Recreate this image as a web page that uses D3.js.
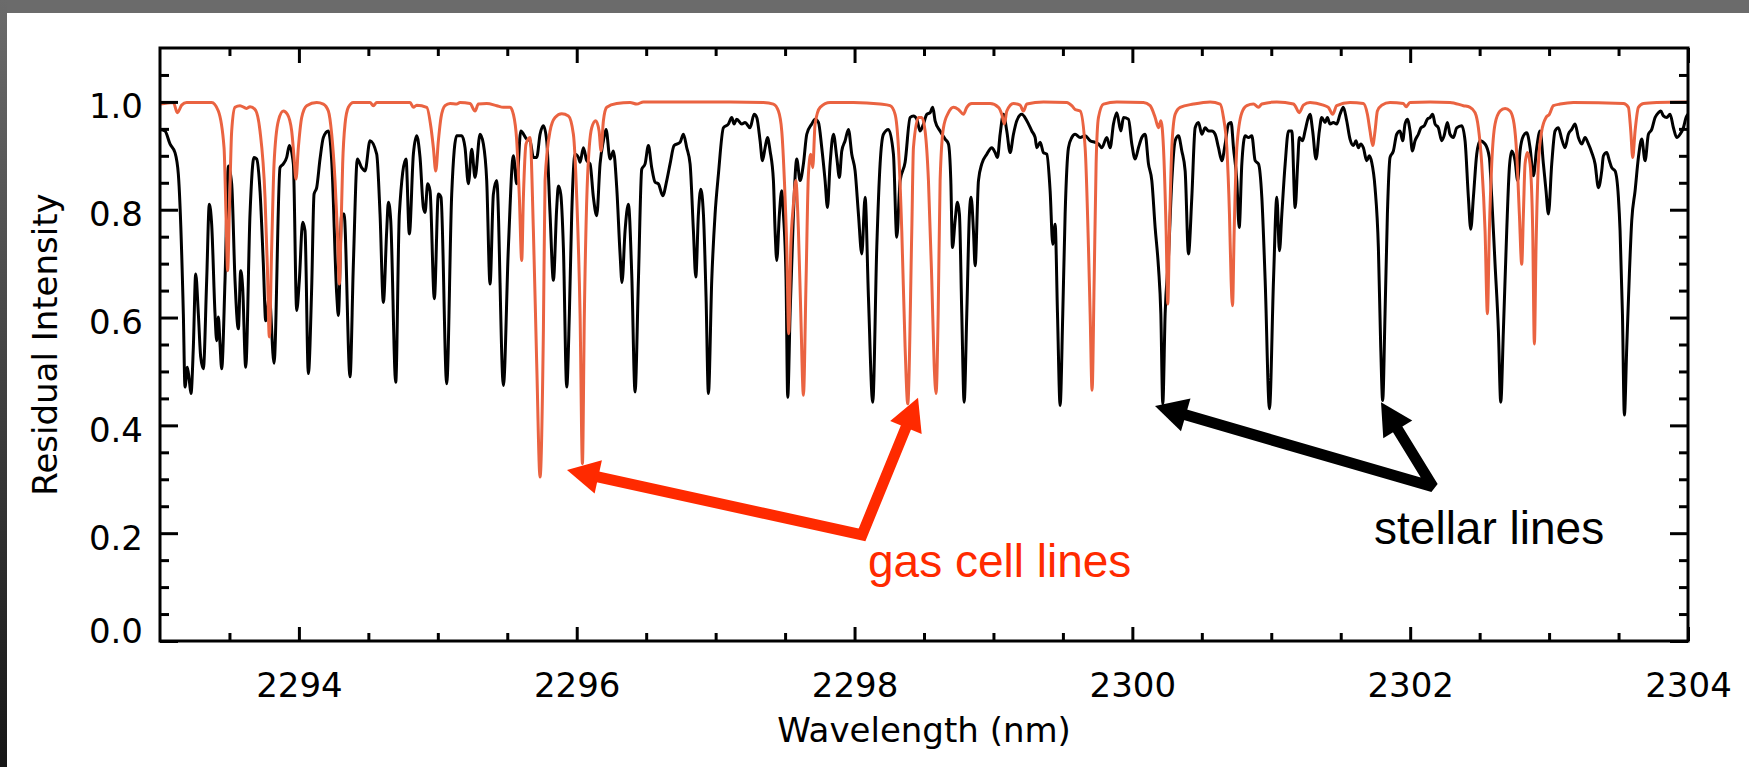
<!DOCTYPE html>
<html>
<head>
<meta charset="utf-8">
<script src="https://cdn.jsdelivr.net/npm/d3@7"></script>
<style>
  body { margin: 0; background: #ffffff; }
  svg { display: block; }
  .axis path.domain { display: none; }
  .axis line { stroke: #000; stroke-width: 3; }
  .axis text { font-family: "DejaVu Sans", sans-serif; font-size: 34px; fill: #000; }
</style>
</head>
<body>
<svg id="chart"></svg>
<script>
// stellar spectrum (black)
var stellarWave = [
2293.000,2293.036,2293.072,2293.108,2293.132,2293.168,2293.180,2293.197,2293.211,2293.223,2293.240,2293.257,2293.276,2293.293,2293.312,2293.336,2293.355,2293.372,2293.396,2293.408,2293.420,2293.432,2293.444,2293.468,2293.492,2293.516,2293.540,2293.564,2293.581,2293.595,2293.617,2293.648,2293.677,2293.696,2293.720,2293.744,2293.761,2293.787,2293.821,2293.864,2293.888,2293.912,2293.931,2293.960,2293.984,2294.003,2294.027,2294.044,2294.068,2294.092,2294.109,2294.128,2294.152,2294.176,2294.212,2294.236,2294.272,2294.284,2294.308,2294.325,2294.368,2294.392,2294.421,2294.452,2294.476,2294.512,2294.560,2294.584,2294.608,2294.632,2294.644,2294.661,2294.697,2294.723,2294.771,2294.795,2294.824,2294.848,2294.872,2294.896,2294.908,2294.927,2294.944,2294.975,2295.004,2295.023,2295.064,2295.100,2295.136,2295.172,2295.196,2295.220,2295.244,2295.268,2295.304,2295.328,2295.352,2295.376,2295.400,2295.424,2295.472,2295.508,2295.544,2295.568,2295.597,2295.640,
2295.664,2295.688,2295.712,2295.736,2295.760,2295.784,2295.808,2295.832,2295.856,2295.868,2295.885,2295.904,2295.928,2295.947,2295.964,2295.988,2296.012,2296.024,2296.048,2296.072,2296.096,2296.120,2296.144,2296.168,2296.192,2296.211,2296.240,2296.264,2296.288,2296.312,2296.326,2296.348,2296.372,2296.396,2296.420,2296.444,2296.468,2296.492,2296.516,2296.540,2296.564,2296.588,2296.619,2296.648,2296.672,2296.701,2296.744,2296.768,2296.792,2296.816,2296.840,2296.857,2296.876,2296.893,2296.912,2296.931,2296.948,2296.972,2296.996,2297.020,2297.056,2297.092,2297.116,2297.133,2297.152,2297.188,2297.212,2297.248,2297.277,2297.296,2297.320,2297.337,2297.356,2297.373,2297.392,2297.416,2297.428,2297.440,2297.459,2297.476,2297.488,2297.507,2297.519,2297.536,2297.560,2297.584,2297.608,2297.632,2297.656,2297.692,2297.716,2297.740,2297.764,2297.788,2297.805,2297.824,2297.848,2297.872,2297.891,2297.908,2297.932,2297.956,2297.980,2298.004,2298.028,2298.052,2298.076,2298.100,2298.131,2298.160,2298.184,2298.208,2298.244,2298.280,2298.304,2298.328,2298.364,2298.400,
2298.424,2298.448,2298.472,2298.496,2298.520,2298.544,2298.563,2298.580,2298.616,2298.652,2298.676,2298.693,2298.705,2298.724,2298.741,2298.755,2298.772,2298.789,2298.808,2298.827,2298.839,2298.856,2298.868,2298.892,2298.916,2298.952,2298.988,2299.012,2299.029,2299.048,2299.072,2299.096,2299.120,2299.144,2299.168,2299.204,2299.240,2299.276,2299.300,2299.312,2299.336,2299.360,2299.384,2299.408,2299.427,2299.444,2299.461,2299.480,2299.499,2299.516,2299.540,2299.564,2299.588,2299.624,2299.660,2299.696,2299.732,2299.756,2299.780,2299.816,2299.840,2299.864,2299.888,2299.917,2299.936,2299.972,2299.996,2300.020,2300.044,2300.068,2300.092,2300.116,2300.140,2300.164,2300.188,2300.205,2300.219,2300.236,2300.260,2300.284,2300.308,2300.332,2300.356,2300.380,2300.404,2300.428,2300.452,2300.476,2300.500,2300.524,2300.548,2300.572,2300.596,2300.620,2300.644,2300.668,2300.692,2300.711,2300.728,2300.752,2300.769,2300.788,2300.812,2300.836,2300.860,2300.884,2300.908,2300.932,2300.956,2300.987,2301.016,2301.040,2301.059,2301.076,2301.100,2301.124,2301.148,
2301.172,2301.190,2301.202,2301.226,2301.243,2301.267,2301.279,2301.298,2301.322,2301.346,2301.363,2301.387,2301.404,2301.423,2301.447,2301.471,2301.495,2301.519,2301.543,2301.567,2301.591,2301.610,2301.627,2301.644,2301.663,2301.687,2301.706,2301.723,2301.747,2301.771,2301.788,2301.802,2301.819,2301.836,2301.855,2301.879,2301.903,2301.927,2301.946,2301.963,2301.980,2301.999,2302.016,2302.035,2302.059,2302.078,2302.102,2302.124,2302.143,2302.162,2302.179,2302.203,2302.227,2302.244,2302.268,2302.287,2302.311,2302.335,2302.371,2302.395,2302.419,2302.436,2302.455,2302.479,2302.503,2302.539,2302.570,2302.587,2302.611,2302.635,2302.652,2302.671,2302.695,2302.714,2302.731,2302.755,2302.774,2302.791,2302.815,2302.839,2302.863,2302.887,2302.911,2302.935,2302.959,2302.978,2302.995,2303.019,2303.043,2303.067,2303.091,2303.115,2303.139,2303.163,2303.187,2303.211,2303.235,2303.259,2303.283,2303.307,2303.331,2303.355,2303.379,2303.391,2303.415,2303.434,2303.451,2303.475,2303.499,2303.511,2303.528,2303.542,2303.559,2303.578,2303.595,2303.619,2303.643,2303.667,2303.691,2303.715,2303.739,2303.763,2303.787,2303.804,2303.823,2303.847,2303.871,2303.895,2303.919,2303.943,2303.967,2303.986,2304.000]
var stellarFlux = [
0.949,0.946,0.922,0.906,0.866,0.607,0.471,0.508,0.483,0.459,0.545,0.681,0.607,0.527,0.505,0.669,0.810,0.773,0.607,0.557,0.601,0.551,0.505,0.669,0.881,0.848,0.669,0.579,0.687,0.656,0.508,0.792,0.897,0.894,0.835,0.699,0.594,0.638,0.515,0.878,0.885,0.897,0.919,0.885,0.613,0.669,0.777,0.761,0.496,0.656,0.829,0.841,0.894,0.934,0.946,0.891,0.644,0.604,0.792,0.792,0.490,0.699,0.894,0.878,0.872,0.928,0.903,0.792,0.628,0.761,0.814,0.780,0.480,0.792,0.894,0.755,0.903,0.937,0.897,0.804,0.795,0.848,0.835,0.635,0.829,0.823,0.477,0.829,0.937,0.937,0.915,0.848,0.912,0.860,0.940,0.922,0.854,0.662,0.829,0.854,0.474,0.730,0.900,0.848,0.946,0.931,
0.928,0.897,0.897,0.940,0.956,0.928,0.792,0.669,0.804,0.844,0.829,0.730,0.471,0.607,0.792,0.903,0.897,0.888,0.915,0.891,0.885,0.823,0.789,0.885,0.928,0.949,0.894,0.909,0.841,0.718,0.665,0.761,0.810,0.681,0.462,0.669,0.875,0.885,0.919,0.878,0.851,0.848,0.826,0.854,0.885,0.919,0.925,0.940,0.915,0.885,0.761,0.675,0.792,0.838,0.792,0.638,0.459,0.669,0.792,0.866,0.952,0.959,0.971,0.959,0.968,0.959,0.962,0.952,0.977,0.971,0.928,0.891,0.915,0.934,0.909,0.854,0.761,0.706,0.792,0.835,0.792,0.669,0.452,0.607,0.792,0.894,0.854,0.885,0.940,0.959,0.968,0.962,0.915,0.854,0.804,0.885,0.940,0.897,0.860,0.909,0.928,0.949,0.903,0.872,0.792,0.718,0.823,0.638,0.443,0.730,0.885,0.940,0.949,0.903,0.749,0.854,0.888,0.971,
0.974,0.968,0.946,0.959,0.977,0.980,0.990,0.965,0.946,0.931,0.922,0.854,0.730,0.780,0.814,0.792,0.607,0.443,0.607,0.792,0.823,0.761,0.696,0.854,0.885,0.903,0.915,0.906,0.897,0.940,0.977,0.946,0.906,0.940,0.965,0.977,0.965,0.946,0.934,0.915,0.925,0.906,0.903,0.835,0.736,0.773,0.607,0.437,0.607,0.792,0.915,0.934,0.940,0.934,0.937,0.928,0.925,0.922,0.915,0.934,0.915,0.959,0.980,0.946,0.971,0.968,0.922,0.894,0.915,0.934,0.940,0.885,0.854,0.767,0.693,0.607,0.440,0.607,0.712,0.854,0.928,0.937,0.909,0.872,0.718,0.823,0.952,0.962,0.940,0.952,0.946,0.946,0.940,0.915,0.891,0.922,0.959,0.962,0.915,0.854,0.767,0.885,0.937,0.934,0.937,0.891,0.885,0.823,0.669,0.431,0.669,0.823,0.724,0.792,0.885,0.946,0.946,
0.804,0.885,0.934,0.928,0.946,0.971,0.977,0.946,0.894,0.946,0.971,0.962,0.971,0.959,0.962,0.959,0.977,0.990,0.965,0.931,0.919,0.928,0.915,0.922,0.915,0.891,0.900,0.888,0.841,0.730,0.545,0.446,0.607,0.792,0.897,0.909,0.940,0.946,0.928,0.959,0.968,0.946,0.909,0.928,0.940,0.952,0.956,0.968,0.971,0.977,0.959,0.952,0.928,0.937,0.962,0.940,0.934,0.952,0.956,0.928,0.823,0.764,0.823,0.903,0.928,0.922,0.897,0.823,0.699,0.576,0.443,0.576,0.761,0.878,0.909,0.891,0.854,0.909,0.937,0.943,0.915,0.863,0.915,0.946,0.885,0.835,0.792,0.885,0.946,0.952,0.931,0.915,0.940,0.949,0.959,0.934,0.922,0.934,0.922,0.906,0.885,0.841,0.872,0.900,0.906,0.891,0.878,0.872,0.823,0.761,0.607,0.419,0.545,0.681,0.780,0.835,0.897,0.931,0.891,0.940,0.949,0.971,0.980,0.983,0.974,0.971,0.977,0.952,0.934,0.940,0.952,0.971,0.977]

// gas cell transmission (red)
var gasWave = [
2293.000,2293.096,2293.125,2293.156,2293.192,2293.372,2293.420,2293.461,2293.475,2293.487,2293.499,2293.516,2293.540,2293.576,2293.624,2293.648,2293.684,2293.720,2293.756,2293.773,2293.787,2293.804,2293.821,2293.852,2293.888,2293.917,2293.948,2293.965,2293.979,2293.996,2294.020,2294.056,2294.128,2294.176,2294.212,2294.236,2294.260,2294.277,2294.291,2294.303,2294.315,2294.332,2294.356,2294.392,2294.512,2294.536,2294.560,2294.800,2294.824,2294.848,2294.920,2294.951,2294.968,2294.985,2295.004,2295.023,2295.052,2295.088,2295.136,2295.160,2295.232,2295.268,2295.292,2295.352,2295.424,2295.472,2295.520,2295.544,2295.568,2295.587,2295.604,2295.616,2295.635,2295.664,
2295.688,2295.712,2295.736,2295.760,2295.772,2295.808,2295.844,2295.892,2295.940,2295.976,2296.000,2296.024,2296.041,2296.055,2296.077,2296.108,2296.137,2296.161,2296.175,2296.192,2296.216,2296.288,2296.384,2296.432,2296.480,2296.624,2296.960,2297.104,2297.344,2297.416,2297.452,2297.476,2297.495,2297.512,2297.526,2297.541,2297.560,2297.577,2297.596,2297.613,2297.632,2297.651,2297.668,2297.685,2297.699,2297.716,2297.752,2297.824,2297.992,2298.184,2298.256,2298.292,2298.316,2298.340,2298.364,2298.383,2298.412,
2298.424,2298.460,2298.484,2298.508,2298.532,2298.556,2298.573,2298.587,2298.602,2298.616,2298.640,2298.676,2298.712,2298.748,2298.784,2298.808,2298.844,2298.976,2299.036,2299.060,2299.079,2299.096,2299.144,2299.192,2299.216,2299.240,2299.360,2299.528,2299.564,2299.588,2299.624,2299.660,2299.684,2299.696,2299.710,2299.725,2299.739,2299.756,2299.792,2299.888,2300.080,2300.128,2300.164,2300.188,2300.205,2300.224,2300.243,2300.255,2300.267,2300.284,2300.308,2300.344,2300.440,2300.560,2300.632,2300.656,2300.680,2300.699,2300.711,2300.721,2300.733,2300.752,2300.788,2300.824,2300.872,2300.908,2300.932,2301.040,2301.160,
2301.171,2301.202,2301.231,2301.279,2301.375,2301.411,2301.442,2301.471,2301.567,2301.663,2301.692,2301.711,2301.730,2301.747,2301.764,2301.795,2301.855,2301.951,2301.970,2301.999,2302.143,2302.287,2302.383,2302.431,2302.467,2302.491,2302.515,2302.539,2302.556,2302.570,2302.587,2302.611,2302.647,2302.683,2302.719,2302.748,2302.767,2302.786,2302.803,2302.815,2302.827,2302.844,2302.863,2302.882,2302.894,2302.906,2302.923,2302.947,2302.978,2303.002,2303.031,2303.079,2303.175,2303.535,2303.571,2303.588,2303.602,2303.619,2303.643,2303.679,2303.775,2304.000]
var gasFlux = [
0.996,0.999,0.980,0.994,0.999,0.999,0.983,0.915,0.792,0.687,0.792,0.946,0.990,0.993,0.988,0.991,0.986,0.946,0.823,0.693,0.564,0.730,0.885,0.965,0.983,0.977,0.946,0.897,0.857,0.915,0.971,0.993,0.999,0.996,0.983,0.940,0.854,0.761,0.662,0.761,0.885,0.959,0.990,0.999,0.999,0.993,0.999,0.999,0.990,0.994,0.990,0.952,0.915,0.872,0.928,0.971,0.993,0.997,0.996,0.999,0.997,0.983,0.996,0.997,0.993,0.990,0.990,0.977,0.928,0.823,0.706,0.823,0.922,0.934,
0.761,0.514,0.304,0.576,0.854,0.946,0.971,0.978,0.974,0.940,0.823,0.607,0.329,0.607,0.854,0.952,0.965,0.946,0.909,0.965,0.990,0.997,0.999,0.996,1.000,1.000,1.000,1.000,0.999,0.996,0.983,0.946,0.854,0.730,0.570,0.730,0.810,0.854,0.761,0.607,0.456,0.669,0.866,0.903,0.878,0.959,0.990,0.999,0.999,0.996,0.993,0.977,0.915,0.761,0.545,0.440,0.760,
0.915,0.971,0.971,0.946,0.854,0.669,0.514,0.459,0.607,0.854,0.952,0.980,0.990,0.986,0.977,0.990,0.997,0.997,0.990,0.977,0.959,0.983,0.997,0.994,0.983,0.996,1.000,0.999,0.993,0.986,0.983,0.915,0.730,0.607,0.465,0.669,0.885,0.971,0.996,1.000,0.999,0.993,0.971,0.952,0.965,0.915,0.761,0.625,0.761,0.915,0.977,0.990,0.996,1.000,0.996,0.971,0.915,0.792,0.669,0.622,0.761,0.915,0.980,0.993,0.996,0.990,0.996,1.000,0.996,
0.993,0.980,0.994,0.999,0.994,0.990,0.977,0.993,0.999,0.997,0.977,0.946,0.919,0.946,0.983,0.994,0.999,0.997,0.991,0.999,1.000,0.999,0.993,0.990,0.980,0.952,0.885,0.761,0.607,0.761,0.885,0.959,0.983,0.988,0.983,0.959,0.903,0.792,0.699,0.792,0.885,0.906,0.885,0.761,0.551,0.730,0.885,0.946,0.971,0.977,0.993,0.996,0.999,0.997,0.990,0.946,0.897,0.946,0.990,0.997,0.999,1.000]

// axis ticks
var xMajor = [2294, 2296, 2298, 2300, 2302, 2304]
var xMinor = [2293.5, 2294.5, 2295, 2295.5, 2296.5, 2297, 2297.5, 2298.5, 2299, 2299.5, 2300.5, 2301, 2301.5, 2302.5, 2303, 2303.5]
var yMajor = [0, 0.2, 0.4, 0.6, 0.8, 1.0]
var yMinor = [0.05, 0.1, 0.15, 0.25, 0.3, 0.35, 0.45, 0.5, 0.55, 0.65, 0.7, 0.75, 0.85, 0.9, 0.95, 1.05]

// annotations: [tail vertex, tip 1, tip 2] in data units
var gasArrow = [[2298.054, 0.197], [2295.930, 0.317], [2298.457, 0.451]]
var starArrow = [[2302.164, 0.286], [2300.163, 0.436], [2301.790, 0.443]]
var gasLabel = {text: "gas cell lines", wave: 2298.097, flux: 0.119}
var starLabel = {text: "stellar lines", wave: 2301.740, flux: 0.180}

var screen = {width: 1749, height: 767}
var margins = {top: 48, right: 61, left: 160, bottom: 126}

var svg = d3.select("#chart")
    .attr("width", screen.width)
    .attr("height", screen.height)

// grey frame of the slide
var grad = svg.append("defs").append("linearGradient")
    .attr("id", "side").attr("x1", 0).attr("y1", 0).attr("x2", 0).attr("y2", 1)
grad.append("stop").attr("offset", "0%").attr("stop-color", "#6b6b6b")
grad.append("stop").attr("offset", "100%").attr("stop-color", "#161616")

svg.append("rect").attr("width", screen.width).attr("height", screen.height).attr("fill", "#fff")
svg.append("rect").attr("width", screen.width).attr("height", 13).attr("fill", "#6b6b6b")
svg.append("rect").attr("y", 0).attr("width", 7).attr("height", screen.height).attr("fill", "url(#side)")

var width = screen.width - margins.left - margins.right
var height = screen.height - margins.top - margins.bottom

var xScale = d3.scaleLinear().domain([2293, 2304]).range([0, width])
var yScale = d3.scaleLinear().domain([0, 1.1]).range([height, 0])

var graph = svg.append("g")
    .attr("transform", "translate(" + margins.left + "," + margins.top + ")")

var clip = graph.append("clipPath").attr("id", "plotclip")
clip.append("rect").attr("width", width).attr("height", height)

var line = d3.line()
    .x(function(d){ return xScale(d[0]) })
    .y(function(d){ return yScale(d[1]) })
    .curve(d3.curveMonotoneX)

var stellar = stellarWave.map(function(w, i){ return [w, stellarFlux[i]] })
var gas = gasWave.map(function(w, i){ return [w, gasFlux[i]] })

var lines = graph.append("g").attr("clip-path", "url(#plotclip)")
lines.append("path").datum(stellar)
    .attr("d", line).attr("fill", "none")
    .attr("stroke", "#000").attr("stroke-width", 3).attr("stroke-linejoin", "round")
lines.append("path").datum(gas)
    .attr("d", line).attr("fill", "none")
    .attr("stroke", "#ea6341").attr("stroke-width", 3).attr("stroke-linejoin", "round")

// axes, ticks pointing inward on all four sides
var addAxis = function(axis, tx, ty)
{
    return graph.append("g").classed("axis", true)
        .attr("transform", "translate(" + tx + "," + ty + ")")
        .call(axis)
}

var bottom = addAxis(d3.axisBottom(xScale).tickValues(xMajor).tickSize(-14).tickFormat(d3.format("d")), 0, height)
addAxis(d3.axisBottom(xScale).tickValues(xMinor).tickSize(-8).tickFormat(""), 0, height)
addAxis(d3.axisTop(xScale).tickValues(xMajor).tickSize(-15).tickFormat(""), 0, 0)
addAxis(d3.axisTop(xScale).tickValues(xMinor).tickSize(-8).tickFormat(""), 0, 0)

var left = addAxis(d3.axisLeft(yScale).tickValues(yMajor).tickSize(-18).tickFormat(d3.format(".1f")), 0, 0)
addAxis(d3.axisLeft(yScale).tickValues(yMinor).tickSize(-9).tickFormat(""), 0, 0)
addAxis(d3.axisRight(yScale).tickValues(yMajor).tickSize(-18).tickFormat(""), width, 0)
addAxis(d3.axisRight(yScale).tickValues(yMinor).tickSize(-9).tickFormat(""), width, 0)

bottom.selectAll("text")
    .attr("y", 56).attr("dy", 0)

left.selectAll("text")
    .attr("x", -17).attr("dy", 0)
    .attr("y", function(d){ return d == 0 ? 1 : 16 })
    .style("text-anchor", "end")

graph.append("rect")
    .attr("width", width).attr("height", height)
    .attr("fill", "none").attr("stroke", "#000").attr("stroke-width", 3)

// axis titles
graph.append("text")
    .attr("x", width / 2).attr("y", height + 101)
    .attr("text-anchor", "middle")
    .style("font-family", "DejaVu Sans, sans-serif").style("font-size", "34px")
    .text("Wavelength (nm)")

graph.append("text")
    .attr("transform", "translate(" + (57 - margins.left) + "," + (height / 2) + ") rotate(-90)")
    .attr("text-anchor", "middle")
    .style("font-family", "DejaVu Sans, sans-serif").style("font-size", "34px")
    .text("Residual Intensity")

// annotation arrows
var drawArrow = function(pts, color)
{
    var p = pts.map(function(d){ return [xScale(d[0]), yScale(d[1])] })
    var headLen = 32, headHalf = 17
    var bases = []
    for (var k = 1; k < 3; k++)
    {
        var dx = p[k][0] - p[0][0], dy = p[k][1] - p[0][1]
        var len = Math.sqrt(dx * dx + dy * dy)
        var ux = dx / len, uy = dy / len
        var bx = p[k][0] - ux * headLen, by = p[k][1] - uy * headLen
        bases.push([bx + ux * 4, by + uy * 4])
        graph.append("path")
            .attr("d", "M" + p[k][0] + "," + p[k][1] +
                       "L" + (bx - uy * headHalf) + "," + (by + ux * headHalf) +
                       "L" + (bx + uy * headHalf) + "," + (by - ux * headHalf) + "Z")
            .attr("fill", color)
    }
    graph.append("path")
        .attr("d", "M" + bases[0][0] + "," + bases[0][1] + "L" + p[0][0] + "," + p[0][1] + "L" + bases[1][0] + "," + bases[1][1])
        .attr("fill", "none").attr("stroke", color).attr("stroke-width", 11)
        .attr("stroke-linejoin", "miter").attr("stroke-miterlimit", 2)
}

drawArrow(gasArrow, "#ff2a00")
drawArrow(starArrow, "#000")

var addLabel = function(lab, color)
{
    graph.append("text")
        .attr("x", xScale(lab.wave)).attr("y", yScale(lab.flux))
        .style("font-family", "Liberation Sans, Arial, sans-serif").style("font-size", "46px")
        .attr("fill", color)
        .text(lab.text)
}
addLabel(gasLabel, "#ff2a00")
addLabel(starLabel, "#000")
</script>
</body>
</html>
